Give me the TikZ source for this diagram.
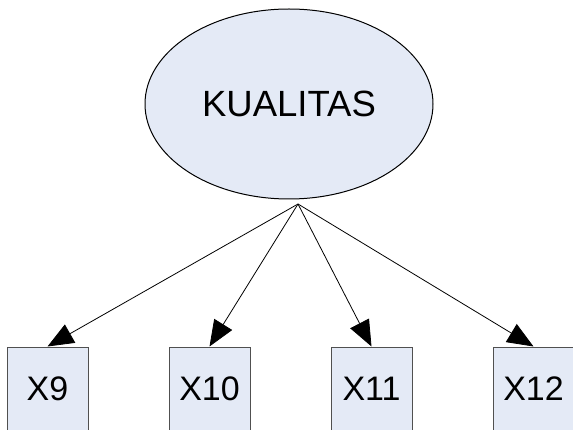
\documentclass[tikz,border=0pt]{standalone}
\usepackage{fontspec}
\setmainfont{Liberation Sans}
\usetikzlibrary{arrows.meta,shapes.geometric}
\definecolor{fillblue}{RGB}{228,234,246}
\definecolor{boxline}{RGB}{80,80,80}
\begin{document}
\begin{tikzpicture}[x=1pt,y=-1pt,
  latent/.style={ellipse, draw=black, line width=1pt, fill=fillblue, minimum width=288pt, minimum height=190pt, inner sep=0pt, font=\fontsize{36.5}{40}\selectfont},
  indicator/.style={rectangle, draw=boxline, line width=1pt, fill=fillblue, minimum width=81pt, minimum height=84pt, inner sep=0pt, font=\fontsize{34}{40}\selectfont},
  loading/.style={draw=black, line width=0.8pt, -{Triangle[length=26pt,width=21pt]}}]
\useasboundingbox (0,0) rectangle (573,430);
\node[latent] (k) at (289,104) {KUALITAS};
\node[indicator] (x9) at (47.5,389) {X9};
\node[indicator] (x10) at (209.5,389) {X10};
\node[indicator] (x11) at (371.5,389) {X11};
\node[indicator] (x12) at (533.5,389) {X12};
\coordinate (hub) at (298,204);
\draw[loading] (hub) -- (x9.north);
\draw[loading] (hub) -- (x10.north);
\draw[loading] (hub) -- (x11.north);
\draw[loading] (hub) -- (x12.north);
\end{tikzpicture}
\end{document}
